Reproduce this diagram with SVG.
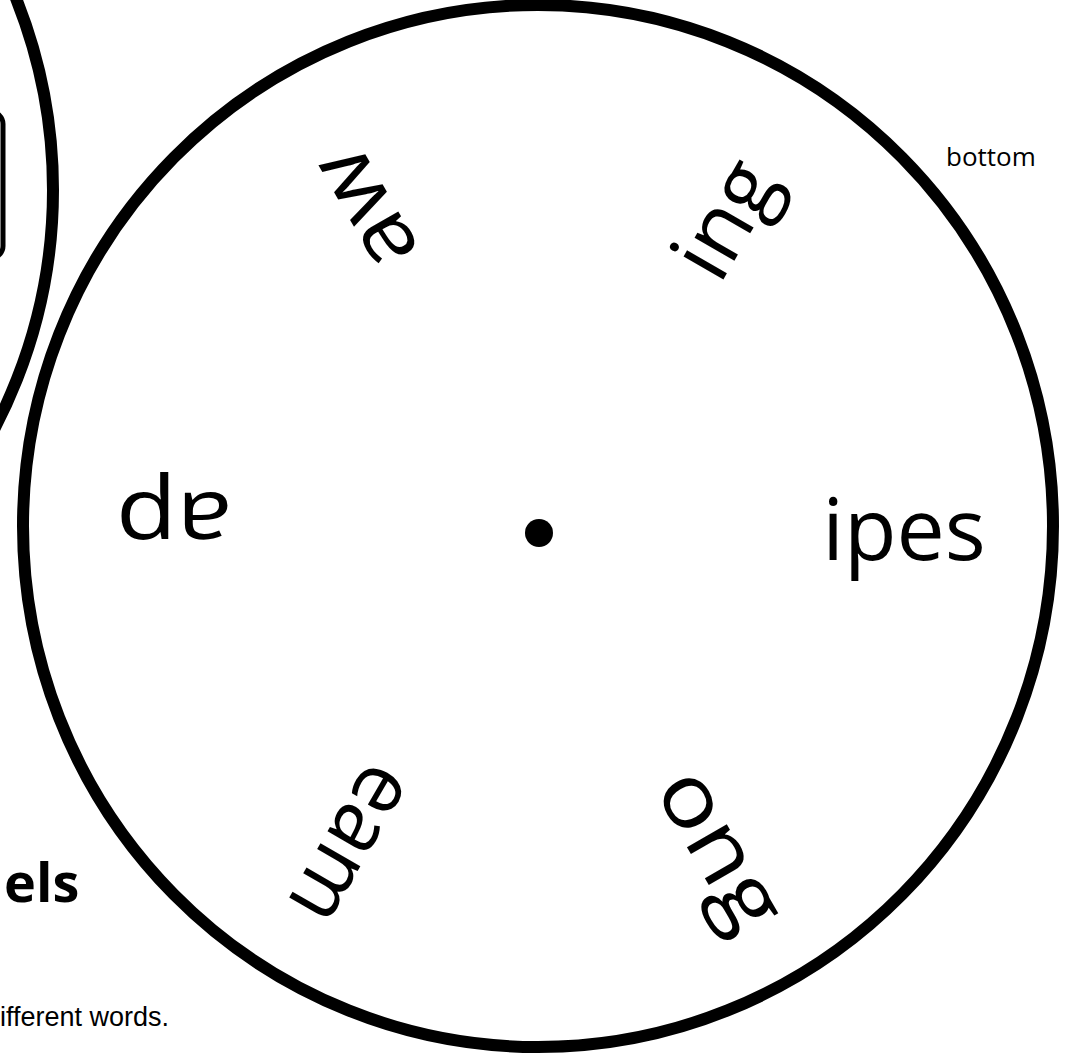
<svg xmlns="http://www.w3.org/2000/svg" width="1077" height="1055" viewBox="0 0 1077 1055">
  <style>
    .ring { fill: none; stroke: #000; stroke-width: 12; }
    .word { font-family: "Open Sans", "DejaVu Sans", sans-serif; font-size: 86px; fill: #000; text-anchor: middle; }
    .small { font-family: "Open Sans", "DejaVu Sans", sans-serif; font-size: 26px; fill: #000; }
    .title { font-family: "Open Sans", "DejaVu Sans", sans-serif; font-size: 54px; font-weight: bold; fill: #000; }
    .note { font-family: "Liberation Sans", Arial, sans-serif; font-size: 27px; fill: #000; }
  </style>
  <rect width="1077" height="1055" fill="#fff"/>
  <g id="left-wheel">
    <circle class="ring" cx="-462" cy="190" r="515"/>
    <rect x="-200" y="112" width="203" height="146" rx="12" fill="none" stroke="#000" stroke-width="5"/>
  </g>
  <g id="heading">
    <text class="title" x="4" y="902">els</text>
    <text class="note" x="0" y="1026">ifferent words.</text>
  </g>
  <text id="label-bottom" class="small" x="946" y="166">bottom</text>
  <g id="wheel">
    <ellipse class="ring" cx="538" cy="526" rx="515" ry="521"/>
    <circle cx="539" cy="533" r="14" fill="#000"/>
  </g>
  <g id="words">
    <text id="w-ipes" class="word" x="904" y="560">ipes</text>
    <text id="w-ing" class="word" x="904" y="566" transform="rotate(-60 539 533)">ing</text>
    <text id="w-aw" class="word" x="906" y="572" transform="rotate(-120 539 533)" textLength="126" lengthAdjust="spacingAndGlyphs">aw</text>
    <text id="w-ap" class="word" x="904" y="573" transform="rotate(180 539 533)" textLength="116" lengthAdjust="spacingAndGlyphs">ap</text>
    <text id="w-eam" class="word" x="902" y="567" transform="rotate(120 539 533)" textLength="168" lengthAdjust="spacingAndGlyphs">eam</text>
    <text id="w-ong" class="word" x="904" y="562" transform="rotate(60 539 533)" textLength="172" lengthAdjust="spacingAndGlyphs">ong</text>
  </g>
</svg>
